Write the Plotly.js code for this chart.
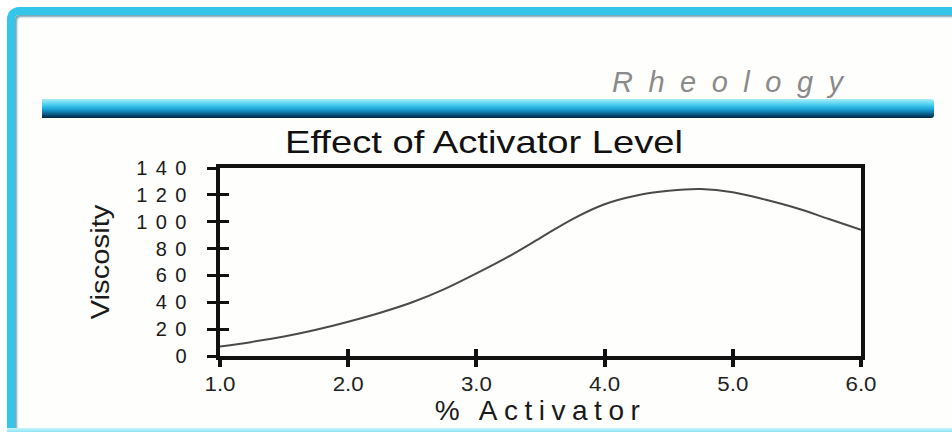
<!DOCTYPE html>
<html>
<head>
<meta charset="utf-8">
<script src="https://cdn.plot.ly/plotly-3.0.1.min.js"></script>
<style>
  body { margin: 0; background: #fff; }
  #wrap { position: relative; width: 952px; height: 432px; overflow: hidden; background: #fff; }
  #frame { position: absolute; left: 7px; top: 7px; width: 945px; height: 425px; box-sizing: border-box;
           border-top: 8px solid #34c6ea; border-left: 8px solid #34c6ea; border-top-left-radius: 12px;
           background: #fefefd; box-shadow: inset 2px 2px 2px rgba(10,90,120,0.55); }
  #frameBottom { position: absolute; left: 7px; bottom: 0; width: 945px; height: 4px;
           background: linear-gradient(#c9f4fb, #8fe3f5); }
  #bar { position: absolute; left: 42px; top: 99px; width: 892px; height: 19px;
         background: linear-gradient(#aaedf9 0%, #4fd0f1 28%, #1ca8d8 52%, #0a6290 78%, #03223b 100%);
         border-radius: 0 3px 3px 0; }
  #plot { position: absolute; left: 0; top: 0; width: 952px; height: 432px; }
</style>
</head>
<body>
<div id="wrap">
  <div id="frame"></div>
  <div id="frameBottom"></div>
  <div id="bar"></div>
  <div id="plot"></div>
</div>
<script>
// ---- data ----
const activator = [1.0, 1.25, 1.5, 1.75, 2.0, 2.25, 2.5, 2.75, 3.0, 3.25, 3.5, 3.75, 4.0, 4.25, 4.5, 4.75, 5.0, 5.25, 5.5, 5.75, 6.0];
const viscosity = [7, 10.5, 14.5, 19.5, 25.5, 32.2, 40, 49.8, 61.5, 74, 88, 102, 113, 119.5, 123, 124.3, 122, 116.5, 110, 102, 94];
const xTickVals = [1, 2, 3, 4, 5, 6];
const xTickText = ['1.0', '2.0', '3.0', '4.0', '5.0', '6.0'];
const yTickVals = [0, 20, 40, 60, 80, 100, 120, 140];
const yTickText = ['0', '20', '40', '60', '80', '100', '120', '140'];
const chartTitle = 'Effect of Activator Level';
const xTitle = '% Activator';
const yTitle = 'Viscosity';
const bannerText = 'Rheology';

// plot area in pixels
const L = 220, R = 861, T = 168, B = 356;
const px = x => (x - L) / (R - L);
const py = y => (B - y) / (B - T);

const FONT = 'Liberation Sans, Arial, Helvetica, sans-serif';

const trace = {
  x: activator, y: viscosity, type: 'scatter', mode: 'lines',
  line: { color: '#4a4a4a', width: 2, shape: 'spline', smoothing: 1 },
  hoverinfo: 'skip', showlegend: false
};
// same series on the overlay axes (invisible) so the inner tick marks get drawn
const tickTrace = {
  x: activator, y: viscosity, xaxis: 'x2', yaxis: 'y2', type: 'scatter', mode: 'lines',
  line: { color: 'rgba(0,0,0,0)', width: 0 }, opacity: 0, hoverinfo: 'skip', showlegend: false
};

const baseAxis = { showgrid: false, zeroline: false, fixedrange: true };

const layout = {
  width: 952, height: 432,
  margin: { l: L, r: 952 - R, t: T, b: 432 - B, pad: 0 },
  paper_bgcolor: 'rgba(0,0,0,0)', plot_bgcolor: 'rgba(0,0,0,0)',
  font: { family: FONT, color: '#111' },
  showlegend: false,
  title: { text: chartTitle, font: { family: FONT, size: 32, color: '#111' },
           xref: 'container', x: 484 / 952, xanchor: 'center',
           yref: 'container', y: 1 - 142 / 432, yanchor: 'middle' },
  xaxis: Object.assign({}, baseAxis, {
    range: [1, 6], tickmode: 'array', tickvals: xTickVals, ticktext: xTickText,
    ticks: 'outside', ticklen: 7, tickwidth: 4, tickcolor: '#111',
    showline: true, linewidth: 4, linecolor: '#111', mirror: true,
    tickfont: { family: FONT, size: 20, color: '#222' },
    title: { text: xTitle, font: { family: FONT, size: 28, color: '#1a1a1a' }, standoff: 2 }
  }),
  xaxis2: Object.assign({}, baseAxis, {
    range: [1, 6], overlaying: 'x', anchor: 'y', side: 'bottom',
    tickmode: 'array', tickvals: xTickVals, ticks: 'inside', ticklen: 7, tickwidth: 4, tickcolor: '#111',
    showticklabels: false, showline: false
  }),
  yaxis: Object.assign({}, baseAxis, {
    range: [0, 140], tickmode: 'array', tickvals: yTickVals, ticktext: yTickText,
    ticks: 'outside', ticklen: 9, tickwidth: 3, tickcolor: '#111',
    showline: true, linewidth: 4, linecolor: '#111', mirror: true,
    tickfont: { family: FONT, size: 20, color: '#1a1a1a' }, ticklabelstandoff: 8,
    title: { text: yTitle, font: { family: FONT, size: 25, color: '#1a1a1a' }, standoff: 46 }
  }),
  yaxis2: Object.assign({}, baseAxis, {
    range: [0, 140], overlaying: 'y', anchor: 'x', side: 'left',
    tickmode: 'array', tickvals: yTickVals, ticks: 'inside', ticklen: 9, tickwidth: 3, tickcolor: '#111',
    showticklabels: false, showline: false
  }),
  annotations: [{
    text: bannerText, xref: 'paper', yref: 'paper',
    x: px(672), y: py(82), xanchor: 'left', yanchor: 'middle', showarrow: false,
    font: { family: FONT, size: 29, color: '#8a8a8a', style: 'italic' }
  }]
};

Plotly.newPlot('plot', [tickTrace, trace], layout, { staticPlot: true, displayModeBar: false }).then(gd => {
  const setLen = (sel, len, adj) => gd.querySelectorAll(sel).forEach(t => {
    t.setAttribute('textLength', len); t.setAttribute('lengthAdjust', adj);
  });
  setLen('.gtitle', 398, 'spacingAndGlyphs');
  setLen('.ytitle', 115, 'spacingAndGlyphs');
  setLen('.xaxislayer-above .xtick text', 31, 'spacingAndGlyphs');
  gd.querySelectorAll('.xtitle').forEach(t => { t.style.letterSpacing = '6.5px'; });
  gd.querySelectorAll('.yaxislayer-above .ytick text').forEach(t => { t.style.letterSpacing = '8.5px'; });
  gd.querySelectorAll('.annotation-text').forEach(t => { t.style.letterSpacing = '15.5px'; });
});
</script>
</body>
</html>
